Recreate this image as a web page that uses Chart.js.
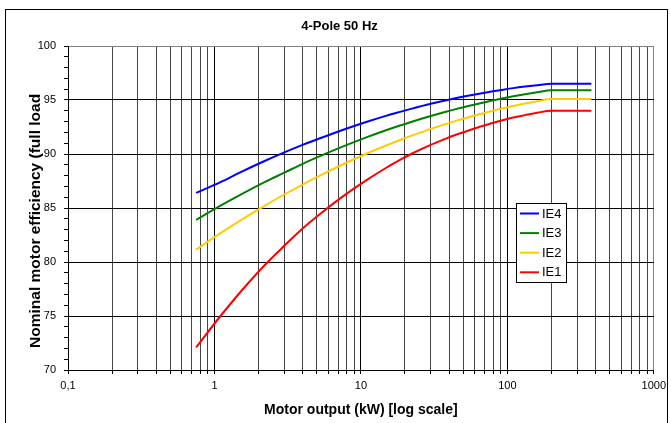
<!DOCTYPE html>
<html>
<head>
<meta charset="utf-8">
<script src="https://cdn.jsdelivr.net/npm/chart.js@4/dist/chart.umd.min.js"></script>
<style>
  html, body { margin: 0; padding: 0; background: #fff; }
  #wrap { position: relative; width: 671px; height: 423px; }
  #frame { position: absolute; left: 5px; top: 9px; width: 663px; height: 420px;
           border: 1px solid #000; box-sizing: border-box; pointer-events: none; }
  #chart { position: absolute; left: 0; top: 0; }
</style>
</head>
<body>
<div id="wrap">
  <canvas id="chart" width="671" height="423"></canvas>
  <div id="frame"></div>
</div>
<script>
// Motor output, kW
const powerKW = [0.75, 1.1, 1.5, 2.2, 3, 4, 5.5, 7.5, 11, 15, 18.5, 22, 30, 37, 45, 55, 75, 90, 110, 132, 160, 200, 375];

// Nominal efficiency (%)
const ie4 = [86.4, 87.4, 88.3, 89.35, 90.15, 90.85, 91.55, 92.22, 92.98, 93.55, 93.9, 94.18, 94.65, 94.93, 95.18, 95.42, 95.75, 95.92, 96.1, 96.24, 96.37, 96.5, 96.5];
const ie3 = [83.9, 85.22, 86.22, 87.4, 88.27, 89.09, 89.92, 90.68, 91.56, 92.22, 92.64, 92.97, 93.52, 93.87, 94.18, 94.47, 94.89, 95.11, 95.34, 95.53, 95.71, 95.9, 95.9];
const ie2 = [81.15, 82.67, 83.84, 85.2, 86.25, 87.17, 88.14, 89.03, 90.05, 90.81, 91.3, 91.68, 92.33, 92.73, 93.09, 93.43, 93.92, 94.18, 94.45, 94.67, 94.88, 95.1, 95.1];
const ie1 = [72.1, 75.0, 77.2, 79.7, 81.5, 83.1, 84.65, 86.05, 87.6, 88.75, 89.45, 90.0, 90.85, 91.35, 91.8, 92.2, 92.78, 93.08, 93.38, 93.6, 93.82, 94.0, 94.0];

// log axis: labelled decades + minor gridlines
const xDecades      = [0.1, 1, 10, 100, 1000];
const xDecadeLabels = ['0,1', '1', '10', '100', '1000'];
const xMultipliers  = [1, 2, 3, 4, 5, 6, 7, 8, 9];

const yMin = 70, yMax = 100;

const xTickValues = [];
xDecades.slice(0, -1).forEach(d => {
  xMultipliers.forEach(m => xTickValues.push(Number((d * m).toPrecision(3))));
});
xTickValues.push(xDecades[xDecades.length - 1]);

const isDecade = v => xDecades.some(d => Math.abs(d - v) < 1e-9);

const toPoints = vals => powerKW.map((p, i) => ({ x: p, y: vals[i] }));

const series = [
  { label: 'IE4', data: ie4, color: '#0000ff' },
  { label: 'IE3', data: ie3, color: '#008000' },
  { label: 'IE2', data: ie2, color: '#ffcc00' },
  { label: 'IE1', data: ie1, color: '#ff0000' },
];

/* ── legend box inside the plot ─────────────────── */
const boxLegend = {
  id: 'boxLegend',
  afterDraw(chart) {
    const { ctx, chartArea } = chart;
    const x0 = Math.round(chartArea.right - 138), y0 = Math.round(chartArea.top + 157);
    const w = 50, h = 79;
    ctx.save();
    ctx.fillStyle = '#fff';
    ctx.fillRect(x0, y0, w, h);
    ctx.strokeStyle = '#000';
    ctx.lineWidth = 1;
    ctx.strokeRect(x0 + 0.5, y0 + 0.5, w, h);
    ctx.font = '13px "Liberation Sans", Arial, sans-serif';
    ctx.textBaseline = 'middle';
    chart.data.datasets.forEach((ds, i) => {
      const y = y0 + 10.5 + i * 19.6;
      ctx.strokeStyle = ds.borderColor;
      ctx.lineWidth = 2;
      ctx.beginPath();
      ctx.moveTo(x0 + 4, y);
      ctx.lineTo(x0 + 23, y);
      ctx.stroke();
      ctx.fillStyle = '#000';
      ctx.fillText(ds.label, x0 + 26, y + 0.5);
    });
    ctx.restore();
  }
};

const font = '"Liberation Sans", Arial, sans-serif';

new Chart(document.getElementById('chart'), {
  type: 'line',
  data: {
    datasets: series.map(s => ({
      label: s.label,
      data: toPoints(s.data),
      borderColor: s.color,
      backgroundColor: s.color,
      borderWidth: 2,
      pointRadius: 0,
      cubicInterpolationMode: 'monotone',
      fill: false,
    })),
  },
  options: {
    responsive: false,
    animation: false,
    layout: { padding: { left: 22, right: 14, top: 0, bottom: 0 } },
    scales: {
      x: {
        type: 'logarithmic',
        min: 0.1,
        max: 1000,
        afterBuildTicks: s => { s.ticks = xTickValues.map(v => ({ value: v, major: isDecade(v) })); },
        afterFit: s => { s.height = 53; },
        grid: {
          color: c => {
            if (!c.tick) return '#444';
            if (c.tick.value === 1000) return '#808080';
            return isDecade(c.tick.value) ? '#000' : '#444';
          },
          tickColor: '#000',
          tickLength: 4,
          lineWidth: 1,
        },
        border: { color: '#000', width: 1 },
        ticks: {
          autoSkip: false,
          maxRotation: 0,
          padding: 5,
          color: '#000',
          font: { family: font, size: 11 },
          callback: v => {
            const i = xDecades.findIndex(d => Math.abs(d - v) < 1e-9);
            return i >= 0 ? xDecadeLabels[i] : '';
          },
        },
        title: {
          display: true,
          text: 'Motor output (kW) [log scale]',
          color: '#000',
          font: { family: font, size: 14, weight: 'bold' },
          padding: { top: 4, bottom: 4.5 },
        },
      },
      y: {
        min: yMin,
        max: yMax,
        afterFit: s => { s.width = 46; },
        grid: {
          color: c => {
            if (!c.tick) return 'rgba(0,0,0,0)';
            if (c.tick.value === yMax) return '#808080';
            return c.tick.value % 5 === 0 ? '#000' : 'rgba(0,0,0,0)';
          },
          tickColor: '#000',
          tickLength: 4,
          lineWidth: 1,
        },
        border: { color: '#000', width: 1 },
        ticks: {
          stepSize: 1,
          autoSkip: false,
          padding: 8,
          color: '#000',
          font: { family: font, size: 11 },
          callback: v => (v % 5 === 0 ? String(v) : ''),
        },
        title: {
          display: true,
          text: 'Nominal motor efficiency (full load      ',
          color: '#000',
          font: { family: font, size: 15.5, weight: 'bold' },
          padding: { top: 4.7, bottom: 0 },
        },
      },
    },
    plugins: {
      legend: { display: false },
      tooltip: { enabled: false },
      title: {
        display: true,
        text: '4-Pole 50 Hz',
        color: '#000',
        font: { family: font, size: 13, weight: 'bold' },
        padding: { top: 19, bottom: 11.4 },
      },
    },
  },
  plugins: [boxLegend],
});
</script>
</body>
</html>
